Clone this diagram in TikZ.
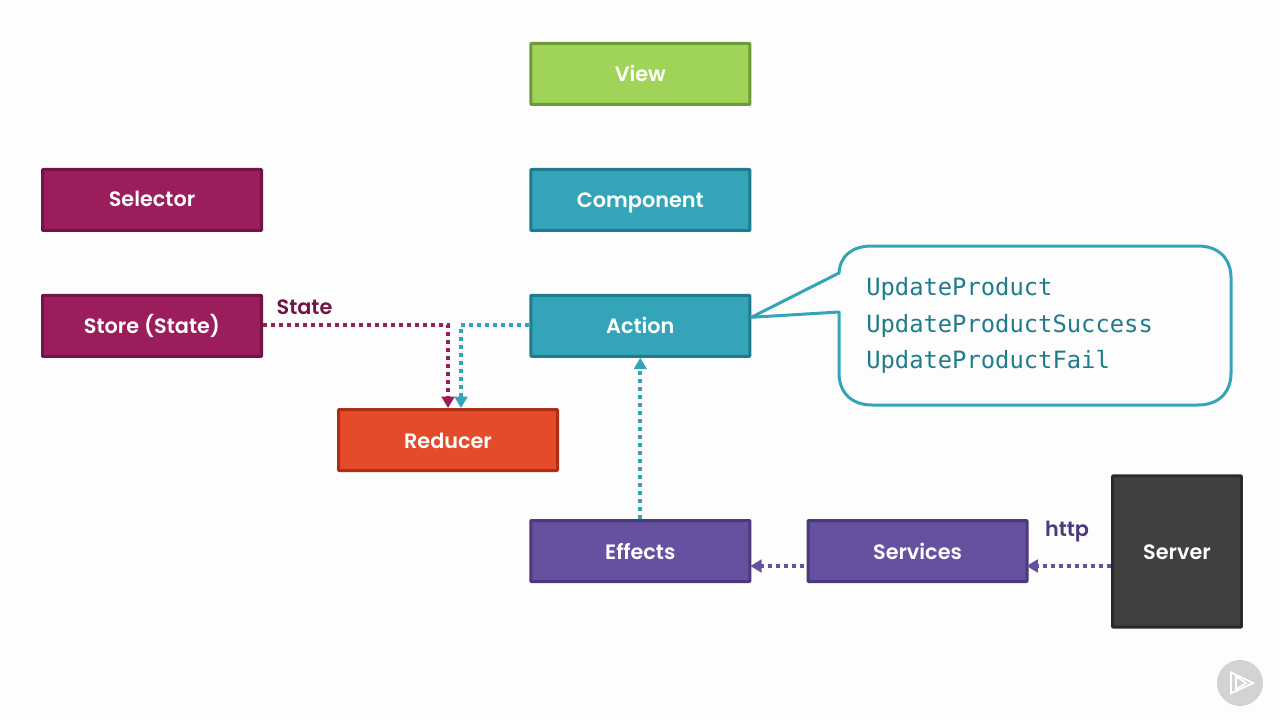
\documentclass[tikz,border=0pt]{standalone}
\usepackage{fontspec}
\setmainfont{Poppins}[BoldFont={Poppins SemiBold}]
\newfontfamily\codefont{DejaVu Sans Mono}
\usetikzlibrary{arrows.meta,calc}
\definecolor{bgc}{HTML}{FEFDFE}
\definecolor{grF}{HTML}{A0D458}\definecolor{grS}{HTML}{6F9A3A}
\definecolor{teF}{HTML}{34A4B9}\definecolor{teS}{HTML}{1F7C8C}
\definecolor{maF}{HTML}{9B1D5C}\definecolor{maS}{HTML}{6F1645}
\definecolor{reF}{HTML}{E34B2A}\definecolor{reS}{HTML}{AD2F17}
\definecolor{puF}{HTML}{6650A0}\definecolor{puS}{HTML}{4A3A7A}
\definecolor{daF}{HTML}{404040}\definecolor{daS}{HTML}{2A2A2A}
\definecolor{logoc}{HTML}{D3D3D3}
\tikzset{
 x=0.75pt,y=-0.75pt,
 box/.style={draw,line width=2.25pt,rounded corners=0.5pt,minimum width=164.25pt,minimum height=45.75pt,inner sep=0pt,text height=12pt,text depth=0pt,text=white,font=\fontsize{15.6pt}{18pt}\selectfont\bfseries},
 lab/.style={inner sep=0pt,font=\fontsize{15.6pt}{18pt}\selectfont\bfseries},
 dotline/.style={line width=3.2pt,dash pattern=on 3pt off 3pt},
 tip/.style={-{Triangle[length=8.5pt,width=9.5pt]}},
}
\begin{document}
\begin{tikzpicture}
\useasboundingbox[fill=bgc] (0,0) rectangle (1280,720);
\node[box,fill=grF,draw=grS] (view) at (640.3,74) {View};
\node[box,fill=teF,draw=teS] (component) at (640.3,200) {Component};
\node[box,fill=teF,draw=teS] (action) at (640.3,325.8) {Action};
\node[box,fill=maF,draw=maS] (selector) at (152,200) {\raisebox{1pt}{Selector}};
\node[box,fill=maF,draw=maS] (store) at (152,325.8) {Store (State)};
\node[box,fill=reF,draw=reS] (reducer) at (448,440) {Reducer};
\node[box,fill=puF,draw=puS] (effects) at (640.3,551) {Effects};
\node[box,fill=puF,draw=puS] (services) at (917.5,551) {Services};
\node[box,fill=daF,draw=daS,minimum width=96.5pt,minimum height=113.5pt] (server) at (1177,551.5) {Server};
\node[lab,text=maS,anchor=center] (statelab) at (304.5,307) {State};
\node[lab,text=puS,anchor=center] (httplab) at (1067,532) {http};
% connectors
\coordinate (rm) at (448,408);
\coordinate (rt) at (461,408);
\coordinate (actw) at ($(action.west)+(0,-1)$);
\coordinate (stoe) at ($(store.east)+(0,-1)$);
\draw[dotline,teF,tip] (actw) -| (rt);
\draw[dotline,maF,tip] (stoe) -| (rm);
\draw[dotline,teF,tip] (effects.north) -- (action.south);
\coordinate (svcw) at ($(services.west)+(-3,15)$);
\coordinate (effe) at ($(effects.east)+(-1,15)$);
\coordinate (srvw) at ($(server.west)+(0,14.5)$);
\coordinate (svce) at ($(services.east)+(-2,15)$);
\draw[dotline,puF,tip] (svcw) -- (effe);
\draw[dotline,puF,tip] (srvw) -- (svce);
% callout
\coordinate (ctp) at ($(action.east)+(0,-8.5)$);
\draw[teF,line width=2.25pt,line join=round,fill=bgc]
 (ctp) -- (839,273) .. controls (840,256) and (852,246) .. (872,246)
 -- (1198,246) .. controls (1218,246) and (1231,258) .. (1231,278)
 -- (1231,373) .. controls (1231,393) and (1218,405) .. (1198,405)
 -- (872,405) .. controls (852,405) and (839,393) .. (839,373)
 -- (839,312) -- cycle;
\node[inner sep=0pt,anchor=north west,align=left,text=teS,font=\codefont\fontsize{17.85pt}{27.4pt}\selectfont] (calltext) at (866,277.3)
 {UpdateProduct\\UpdateProductSuccess\\UpdateProductFail};
% logo
\fill[logoc] (1240,683) circle (23);
\draw[white,line width=1.3pt,line join=miter] (1231,672.5) -- (1253,683) -- (1231,693.5) -- cycle;
\draw[white,line width=1.3pt,line join=miter] (1236,676.5) -- (1246,683) -- (1236,689.5) -- cycle;
\end{tikzpicture}
\end{document}
